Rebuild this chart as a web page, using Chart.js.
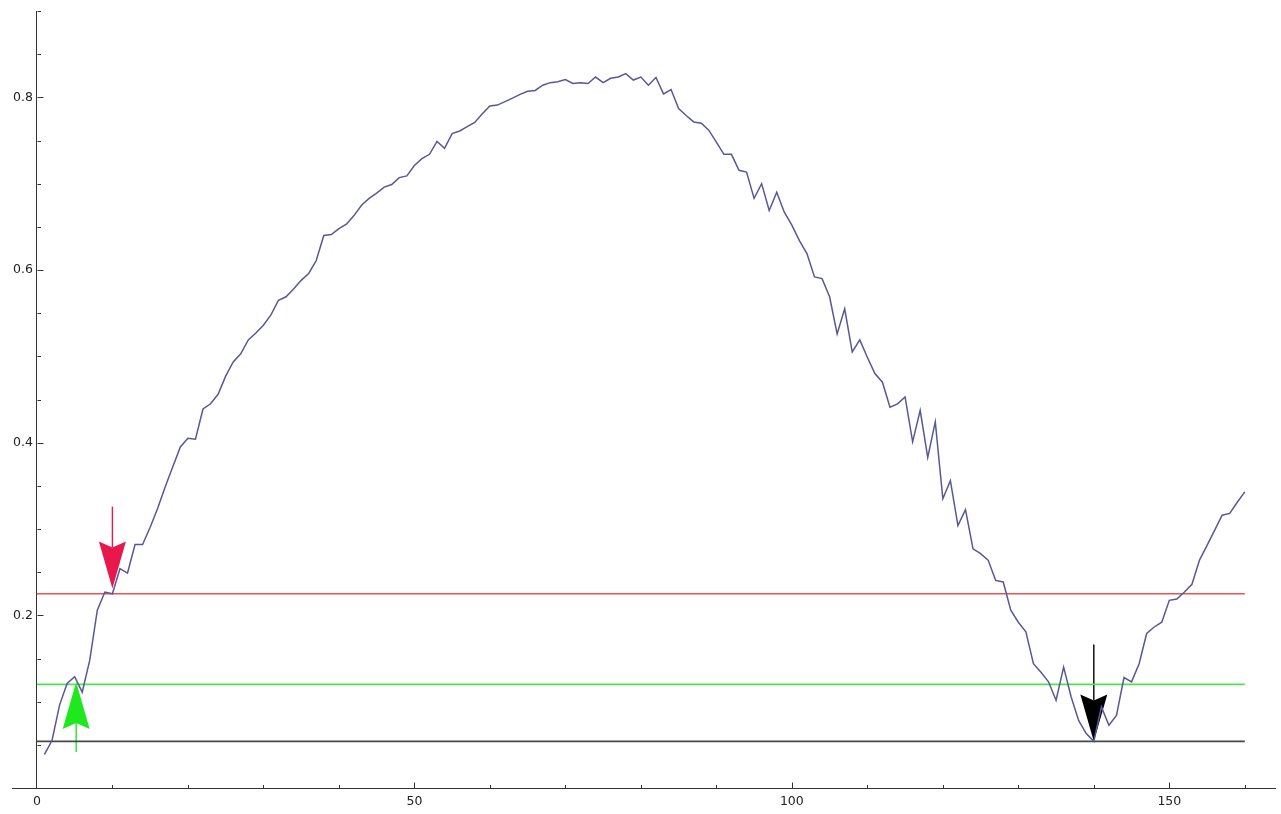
<!DOCTYPE html>
<html>
<head>
<meta charset="utf-8">
<script src="https://cdn.jsdelivr.net/npm/chart.js@4"></script>
<style>
  html, body { margin: 0; padding: 0; background: #fff; }
  #wrap { width: 1281px; height: 814px; }
</style>
</head>
<body>
<div id="wrap"><canvas id="plot"></canvas></div>
<script>
/** Sampled signal, one value per step starting at step 1 */
const values = [
  0.039, 0.055, 0.096, 0.121, 0.129, 0.111, 0.148, 0.206, 0.227, 0.225,
  0.254, 0.249, 0.282, 0.282, 0.302, 0.324, 0.349, 0.372, 0.395, 0.405,
  0.404, 0.439, 0.445, 0.456, 0.477, 0.4935, 0.503, 0.519, 0.527, 0.536,
  0.548, 0.565, 0.569, 0.578, 0.588, 0.596, 0.611, 0.640, 0.641, 0.648,
  0.653, 0.663, 0.675, 0.683, 0.689, 0.696, 0.699, 0.707, 0.709, 0.721,
  0.729, 0.734, 0.749, 0.741, 0.758, 0.761, 0.766, 0.771, 0.781, 0.790,
  0.791, 0.795, 0.799, 0.8035, 0.807, 0.808, 0.814, 0.817, 0.818, 0.8205,
  0.816, 0.817, 0.816, 0.8235, 0.817, 0.822, 0.8235, 0.8275, 0.820, 0.8235,
  0.814, 0.823, 0.804, 0.809, 0.787, 0.779, 0.7715, 0.770, 0.762, 0.748,
  0.734, 0.734, 0.7155, 0.7135, 0.683, 0.700, 0.669, 0.690, 0.667, 0.652,
  0.634, 0.619, 0.592, 0.590, 0.569, 0.526, 0.555, 0.505, 0.519, 0.499,
  0.480, 0.470, 0.441, 0.445, 0.453, 0.401, 0.4375, 0.383, 0.424, 0.335,
  0.356, 0.304, 0.3225, 0.277, 0.2715, 0.264, 0.2405, 0.2386, 0.206, 0.192,
  0.181, 0.144, 0.134, 0.123, 0.1016, 0.140, 0.1054, 0.078, 0.063, 0.054,
  0.094, 0.0726, 0.084, 0.128, 0.123, 0.144, 0.179, 0.1865, 0.192, 0.2174,
  0.219, 0.227, 0.236, 0.264, 0.281, 0.2985, 0.316, 0.318, 0.331, 0.343
];
/** Step numbers for the samples */
const steps = values.map((_, i) => i + 1);

/** Horizontal threshold levels: upper, middle, lower */
const levels = [0.225, 0.12, 0.054];
const levelColors = ['#ef5050', '#4ee34e', '#474747'];
/** Threshold lines run across this step range */
const levelSpan = [0, 160];

/** Arrow markers: step, value at the tip, pointing direction */
const arrowSteps = [10, 5.2, 140];
const arrowValues = [0.231, 0.1228, 0.054];
const arrowDirs = ['down', 'up', 'down'];
const arrowColors = ['#e8184c', '#1fe81f', '#000000'];
const arrowLengths = [82, 70, 97];

/** Axis tick labels */
const xLabels = [0, 50, 100, 150];
const yLabels = [0.2, 0.4, 0.6, 0.8];

const AXIS_COLOR = '#333333';
const LABEL_FONT = {family: 'DejaVu Sans', size: 12.5};

const isLabelled = (list, v) => list.some(l => Math.abs(l - v) < 1e-6);

/** Arrows pointing at the marked samples, drawn under the curve */
const arrowMarkers = {
  id: 'arrowMarkers',
  beforeDatasetsDraw(chart) {
    const {ctx, scales: {x, y}} = chart;
    const headLen = 47;
    const headHalf = 13.5;
    const notch = 6;
    ctx.save();
    arrowSteps.forEach((step, i) => {
      const tx = x.getPixelForValue(step);
      const ty = y.getPixelForValue(arrowValues[i]);
      const s = arrowDirs[i] === 'down' ? -1 : 1;
      ctx.strokeStyle = arrowColors[i];
      ctx.fillStyle = arrowColors[i];
      ctx.lineWidth = 1.4;
      ctx.beginPath();
      ctx.moveTo(tx, ty + s * arrowLengths[i]);
      ctx.lineTo(tx, ty + s * (headLen - notch));
      ctx.stroke();
      ctx.beginPath();
      ctx.moveTo(tx, ty);
      ctx.lineTo(tx - headHalf, ty + s * headLen);
      ctx.lineTo(tx, ty + s * (headLen - notch));
      ctx.lineTo(tx + headHalf, ty + s * headLen);
      ctx.closePath();
      ctx.fill();
    });
    ctx.restore();
  }
};

/** Tick marks pointing into the plot, long at labelled values */
const inwardTicks = {
  id: 'inwardTicks',
  afterDraw(chart) {
    const {ctx, scales: {x, y}} = chart;
    const x0 = Math.round(x.getPixelForValue(0)) + 0.5;
    const y0 = Math.round(y.getPixelForValue(0)) + 0.5;
    ctx.save();
    ctx.strokeStyle = AXIS_COLOR;
    ctx.lineWidth = 1;
    ctx.beginPath();
    x.ticks.forEach(t => {
      if (t.value === 0) return;
      const px = Math.round(x.getPixelForValue(t.value)) + 0.5;
      const len = isLabelled(xLabels, t.value) ? 6 : 3.5;
      ctx.moveTo(px, y0);
      ctx.lineTo(px, y0 - len);
    });
    y.ticks.forEach(t => {
      if (t.value <= 0) return;
      const py = Math.round(y.getPixelForValue(t.value)) + 0.5;
      const len = isLabelled(yLabels, t.value) ? 6 : 3.5;
      ctx.moveTo(x0, py);
      ctx.lineTo(x0 + len, py);
    });
    ctx.stroke();
    ctx.restore();
  }
};

const levelDatasets = levels.map((level, i) => ({
  data: levelSpan.map(step => ({x: step, y: level})),
  borderColor: levelColors[i],
  borderWidth: 1.6,
  pointRadius: 0,
}));

new Chart(document.getElementById('plot'), {
  type: 'line',
  data: {
    datasets: [{
      data: steps.map((step, i) => ({x: step, y: values[i]})),
      borderColor: '#585896',
      borderWidth: 1.5,
      pointRadius: 0,
      tension: 0,
    }, ...levelDatasets]
  },
  options: {
    responsive: true,
    maintainAspectRatio: false,
    animation: false,
    events: [],
    layout: {padding: {left: 12, right: 6, top: 11, bottom: 26}},
    scales: {
      x: {
        type: 'linear',
        min: -3.3,
        max: 164,
        position: {y: 0},
        grid: {display: false, drawTicks: false},
        border: {display: true, color: AXIS_COLOR, width: 1},
        ticks: {
          stepSize: 10,
          includeBounds: false,
          autoSkip: false,
          maxRotation: 0,
          padding: 6,
          color: '#222',
          font: LABEL_FONT,
          callback: (value) => isLabelled(xLabels, value) ? String(value) : '',
        },
      },
      y: {
        type: 'linear',
        min: 0,
        max: 0.9,
        position: {x: 0},
        grid: {display: false, drawTicks: false},
        border: {display: true, color: AXIS_COLOR, width: 1},
        ticks: {
          stepSize: 0.05,
          includeBounds: false,
          autoSkip: false,
          color: '#222',
          font: LABEL_FONT,
          callback: (value) => (value > 0 && isLabelled(yLabels, value)) ? value.toFixed(1) + ' ' : '',
        },
      }
    },
    plugins: {
      legend: {display: false},
      tooltip: {enabled: false},
    }
  },
  plugins: [arrowMarkers, inwardTicks],
});
</script>
</body>
</html>
